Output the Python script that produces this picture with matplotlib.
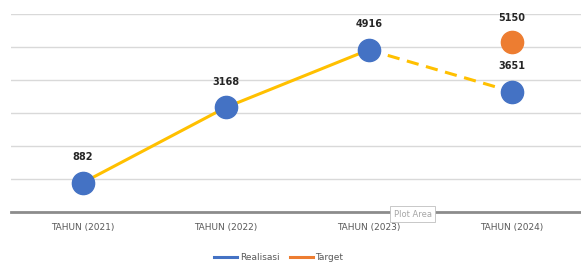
import matplotlib.pyplot as plt
from matplotlib.lines import Line2D

categories = ['TAHUN (2021)', 'TAHUN (2022)', 'TAHUN (2023)', 'TAHUN (2024)']
realisasi = [882, 3168, 4916, 3651]
target_value = 5150
target_index = 3

blue = '#4472C4'
yellow = '#FFC000'
orange = '#ED7D31'

fig = plt.figure(figsize=(5.81, 2.71), dpi=100)
ax = fig.add_axes([0.019, 0.218, 0.985, 0.73])

x = list(range(len(categories)))

# connecting line: solid up to 2023, dashed to 2024
ax.plot(x[:3], realisasi[:3], color=yellow, linewidth=2.2, zorder=2)
ax.plot(x[2:], realisasi[2:], color=yellow, linewidth=2.2, linestyle=(0, (4, 2.5)), zorder=2)
ax.plot(x, realisasi, linestyle='none', marker='o', markersize=16,
        markerfacecolor=blue, markeredgecolor=blue, zorder=3)
ax.plot([x[target_index]], [target_value], linestyle='none', marker='o', markersize=16,
        markerfacecolor=orange, markeredgecolor=orange, zorder=3)

for xi, v in zip(x, realisasi):
    ax.annotate(str(v), (xi, v), xytext=(0, 15), textcoords='offset points',
                ha='center', va='bottom', fontsize=7, fontweight='bold', color='#262626')
ax.annotate(str(target_value), (x[target_index], target_value), xytext=(0, 14),
            textcoords='offset points', ha='center', va='bottom', fontsize=7,
            fontweight='bold', color='#262626')

ax.set_xlim(-0.5, 3.5)
ax.set_ylim(0, 6000)
ax.set_yticks(range(0, 6001, 1000))
ax.set_yticklabels([])
ax.tick_params(axis='y', length=0)
ax.set_xticks(x)
ax.set_xticklabels(categories, fontsize=6.5, color='#595959')
ax.tick_params(axis='x', length=0, pad=8)
ax.grid(axis='y', color='#D9D9D9', linewidth=1)
ax.set_axisbelow(True)
for s in ['top', 'right', 'left']:
    ax.spines[s].set_visible(False)
ax.spines['bottom'].set_color('#8C8C8C')
ax.spines['bottom'].set_linewidth(2)

# Excel "Plot Area" tooltip
fig.text(0.71, 0.21, 'Plot Area', fontsize=6, color='#A6A6A6', ha='center', va='center',
         bbox=dict(boxstyle='square,pad=0.4', facecolor='white', edgecolor='#BFBFBF', linewidth=0.6))

handles = [Line2D([], [], color=blue, linewidth=2.2),
           Line2D([], [], color=orange, linewidth=2.2)]
fig.legend(handles, ['Realisasi', 'Target'], loc='center', bbox_to_anchor=(0.48, 0.048),
           ncol=2, frameon=False, fontsize=6.5, handlelength=2.5, handletextpad=0.3,
           columnspacing=1.2, labelcolor='#595959')

fig.savefig('out.png', dpi=100)
